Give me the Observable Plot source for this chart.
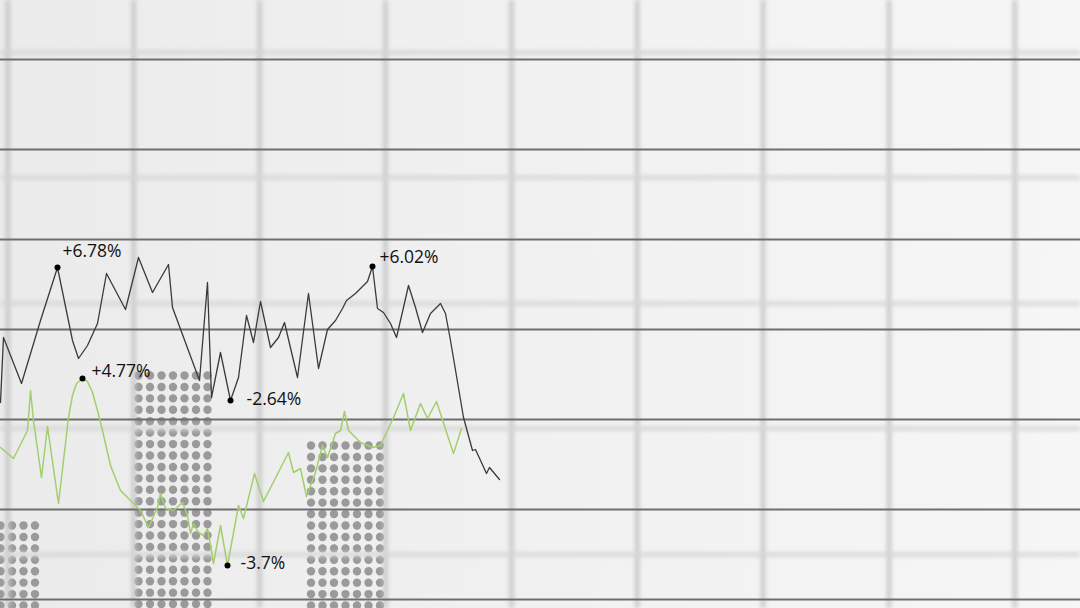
<!DOCTYPE html>
<html>
<head>
<meta charset="utf-8">
<script src="https://cdn.jsdelivr.net/npm/d3@7"></script>
<script src="https://cdn.jsdelivr.net/npm/@observablehq/plot@0.6"></script>
<style>
  html, body { margin: 0; padding: 0; background: #efefef; overflow: hidden; }
  #chart svg { display: block; }
</style>
</head>
<body>
<div id="chart"></div>
<script>
// ---- data ----
// dark series [x, value]
const darkSeries = [
  [0,197],[1.5,262],[10.5,216],[20,279],[28.5,332],[36,259],[39,241],[43.5,254],
  [48.5,276],[53,326],[62.5,290],[69,342],[76,307],[84,335],[86,292],[99.5,219],
  [103.5,317],[105.5,202],[110,247],[115,199],[119,222],[123,284],[126.5,257],
  [130,298],[135,252],[139,262],[142,277],[148.5,222],[154,306],[159,231],
  [163.5,270],[167.5,279],[171,291],[173,299],[177.5,306],[183.5,318],[186,333],
  [188.5,291],[191.5,287],[195,276],[198,262],[201.5,292],[204,314],[207.5,292],
  [211,267],[215,286],[220,296],[222.5,286],[225,259],[231.5,182],[236,149],
  [237.5,150],[243,126],[244.5,132],[249.5,120]
];
// green series [x, value]
const greenSeries = [
  [0,152],[6.5,141],[13.5,169],[15,209],[16.5,179],[20.5,122],[23.5,173],[29,96],
  [34,182],[36,204],[38,216],[41,221],[43.5,218],[46,207],[48.5,189],[51,169],
  [55,134],[60,109],[66.5,96],
  [70,89],[74,72],[78.5,92],[80,106],[82.5,91],[86.5,89],[91,97],[93.5,84],
  [95,66],[96.5,76],[99,67],[101.5,64],[103.5,71],[106.5,36],[110,74],[113.5,34],
  [119,94],[121.5,81],[127,126],[131.5,98],[144,147],[146.5,127],[150,131],
  [153,103],[157.5,127],[161,154],[163.5,142],[167.5,166],[170,169],[172,188],
  [174,169],[180,157],[186,152],[190,154],[196.5,182],[201.5,206],[205,169],
  [210,196],[213.5,181],[218,198],[226.5,146],[230.5,171]
];
// dot-matrix bars
const barCenters = [0, 86.25, 172.5];
const barTops = [74, 224, 154];
// annotations
const annoX = [28.5, 41, 115, 186, 113.5];
const annoY = [332, 221, 199, 333, 34];
const annoLabels = ["+6.78%", "+4.77%", "-2.64%", "+6.02%", "-3.7%"];
// grid
const gridY = [0, 90, 180, 270, 360, 450, 540];
const bgGridX = [3.7, 66.6, 129.5, 192.5, 255.5, 318.4, 381.3, 444.3, 507.2];
const bgGridY = [45, 171, 296, 422, 547];

// ---- layout / style (not data) ----
const labelOffsets = [[5,-16],[9,-7],[16,-1],[7,-9],[13,-2]];
const colStep = 5.75, rowStep = 11.43, nCols = 7;
const BG_V = "#c4c4c4", BG_H = "#d5d5d5";

const dotData = [];
barCenters.forEach((c, i) => {
  for (let v = barTops[i]; v > -16; v -= rowStep) {
    for (let k = 0; k < nCols; k++) dotData.push({x: c + (k - (nCols - 1) / 2) * colStep, y: v});
  }
});
const annos = annoX.map((x, i) => ({x, y: annoY[i], label: annoLabels[i]}));

const plot = Plot.plot({
  width: 1080,
  height: 608,
  marginTop: 0, marginRight: 0, marginBottom: 0, marginLeft: 0,
  x: {domain: [0, 540], range: [0, 1080], axis: null},
  y: {domain: [-9, 599], range: [608, 0], axis: null},
  style: {background: "linear-gradient(90deg, #ebebeb 0%, #f1f1f1 50%, #f6f6f6 100%)", fontFamily: "'Open Sans', sans-serif"},
  marks: [
    Plot.dot(dotData, {x: "x", y: "y", r: 4.2, fill: "#9a9a9a"}),
    Plot.ruleX(bgGridX, {stroke: BG_V, strokeWidth: 4}),
    Plot.ruleY(bgGridY, {stroke: BG_H, strokeWidth: 4}),
    Plot.ruleY(gridY, {stroke: "#6e6e6e", strokeWidth: 2}),
    Plot.line(greenSeries, {x: d => d[0], y: d => d[1], stroke: "#a2cf6c", strokeWidth: 1.5, strokeLinejoin: "round"}),
    Plot.line(darkSeries, {x: d => d[0], y: d => d[1], stroke: "#3a3a3a", strokeWidth: 1.3, strokeLinejoin: "round"}),
    Plot.dot(annos, {x: "x", y: "y", r: 3, fill: "#000"}),
    ...annos.map((a, i) => Plot.text([a], {
      x: "x", y: "y", text: "label", textAnchor: "start",
      dx: labelOffsets[i][0], dy: labelOffsets[i][1],
      fontSize: 17.5, fill: "#111"
    }))
  ]
});
const svg = d3.select(plot);
svg.insert("defs", ":first-child")
  .append("filter").attr("id", "soft-blur")
  .attr("filterUnits", "userSpaceOnUse")
  .attr("x", -20).attr("y", -20).attr("width", 1120).attr("height", 650)
  .append("feGaussianBlur").attr("stdDeviation", 2);
svg.selectAll("g").filter(function() {
  const s = (this.getAttribute("stroke") || "").toLowerCase();
  return s === BG_V || s === BG_H;
}).attr("filter", "url(#soft-blur)");
document.getElementById("chart").appendChild(plot);
</script>
</body>
</html>
